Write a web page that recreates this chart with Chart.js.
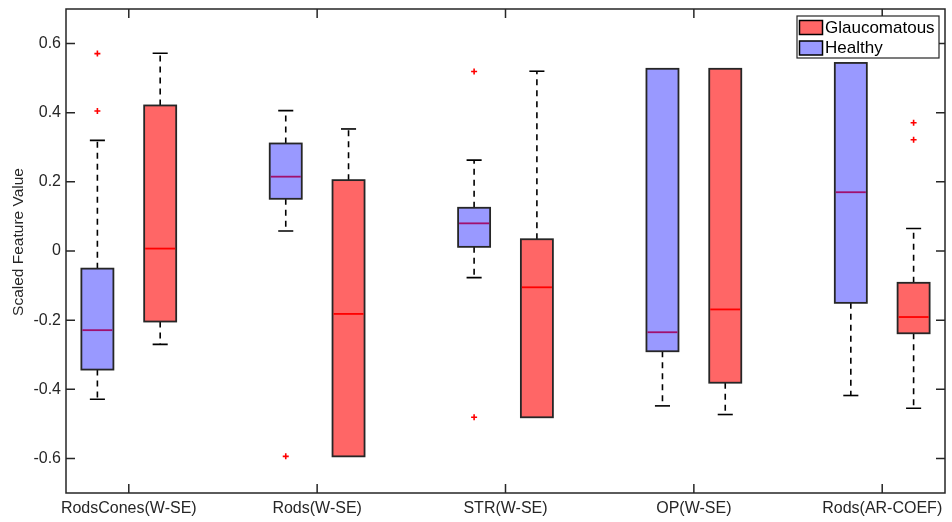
<!DOCTYPE html>
<html>
<head>
<meta charset="utf-8">
<script src="https://cdn.jsdelivr.net/npm/chart.js@4.4.1/dist/chart.umd.min.js"></script>
<style>
  body { margin: 0; background: #fff; }
  canvas { display: block; }
</style>
</head>
<body>
<canvas id="chart" width="952" height="522"></canvas>
<script>
const categories = ['RodsCones(W-SE)', 'Rods(W-SE)', 'STR(W-SE)', 'OP(W-SE)', 'Rods(AR-COEF)'];
const groupNames = ['Glaucomatous', 'Healthy'];
const yTicks = [-0.6, -0.4, -0.2, 0, 0.2, 0.4, 0.6];

// Healthy: whisker ends, quartiles, median, outliers
const healthyMin = [-0.429, 0.058, -0.077, -0.448, -0.418];
const healthyQ1 = [-0.343, 0.151, 0.012, -0.290, -0.150];
const healthyMedian = [-0.229, 0.215, 0.080, -0.235, 0.170];
const healthyQ3 = [-0.051, 0.311, 0.125, 0.527, 0.544];
const healthyMax = [0.320, 0.406, 0.263, 0.527, 0.544];
const healthyOutliers = [[0.571, 0.405], [-0.594], [0.519, -0.481], [], []];

// Glaucomatous
const glaucMin = [-0.270, -0.594, -0.481, -0.473, -0.455];
const glaucQ1 = [-0.204, -0.594, -0.481, -0.381, -0.238];
const glaucMedian = [0.007, -0.182, -0.105, -0.169, -0.191];
const glaucQ3 = [0.421, 0.205, 0.034, 0.527, -0.092];
const glaucMax = [0.572, 0.353, 0.520, 0.527, 0.065];
const glaucOutliers = [[], [], [], [], [0.371, 0.322]];

const FONT = '"Liberation Sans", Arial, sans-serif';
const INK = '#262626';
const OFFSET = 1 / 6;   // group shift from category tick
const HALF_BOX = 0.085;
const HALF_CAP = 0.04;

const series = [
    { name: 'Healthy', shift: -OFFSET, fill: '#9999ff', medianColor: '#a0106e',
      min: healthyMin, q1: healthyQ1, med: healthyMedian, q3: healthyQ3, max: healthyMax, out: healthyOutliers },
    { name: 'Glaucomatous', shift: OFFSET, fill: '#ff6666', medianColor: '#ff0000',
      min: glaucMin, q1: glaucQ1, med: glaucMedian, q3: glaucQ3, max: glaucMax, out: glaucOutliers }
];
const legendFill = { 'Glaucomatous': '#ff6666', 'Healthy': '#9999ff' };

function outlierPoints(s) {
    const pts = [];
    s.out.forEach((vals, i) => vals.forEach(v => pts.push({ x: i + 1 + s.shift, y: v })));
    return pts;
}

const boxPlugin = {
    id: 'boxPlot',
    beforeDatasetsDraw(chart) {
        const ctx = chart.ctx;
        const xs = chart.scales.x, ys = chart.scales.y;
        ctx.save();
        series.forEach(s => {
            categories.forEach((c, i) => {
                const xc = i + 1 + s.shift;
                const px = xs.getPixelForValue(xc);
                const left = xs.getPixelForValue(xc - HALF_BOX);
                const right = xs.getPixelForValue(xc + HALF_BOX);
                const capL = xs.getPixelForValue(xc - HALF_CAP);
                const capR = xs.getPixelForValue(xc + HALF_CAP);
                const yMin = ys.getPixelForValue(s.min[i]);
                const yMax = ys.getPixelForValue(s.max[i]);
                const yQ1 = ys.getPixelForValue(s.q1[i]);
                const yQ3 = ys.getPixelForValue(s.q3[i]);
                const yMed = ys.getPixelForValue(s.med[i]);

                // whiskers
                ctx.strokeStyle = '#000';
                ctx.lineWidth = 1.6;
                ctx.setLineDash([6, 5]);
                ctx.beginPath();
                if (s.max[i] > s.q3[i]) { ctx.moveTo(px, yQ3); ctx.lineTo(px, yMax); }
                if (s.min[i] < s.q1[i]) { ctx.moveTo(px, yQ1); ctx.lineTo(px, yMin); }
                ctx.stroke();
                ctx.setLineDash([]);
                ctx.beginPath();
                if (s.max[i] > s.q3[i]) { ctx.moveTo(capL, yMax); ctx.lineTo(capR, yMax); }
                if (s.min[i] < s.q1[i]) { ctx.moveTo(capL, yMin); ctx.lineTo(capR, yMin); }
                ctx.stroke();

                // box
                ctx.fillStyle = s.fill;
                ctx.fillRect(left, yQ3, right - left, yQ1 - yQ3);
                ctx.strokeStyle = INK;
                ctx.lineWidth = 1.8;
                ctx.strokeRect(left, yQ3, right - left, yQ1 - yQ3);

                // median
                ctx.strokeStyle = s.medianColor;
                ctx.lineWidth = 1.8;
                ctx.beginPath();
                ctx.moveTo(left + 1, yMed);
                ctx.lineTo(right - 1, yMed);
                ctx.stroke();
            });
        });
        ctx.restore();
    },
    afterDraw(chart) {
        const ctx = chart.ctx;
        const { left, right, top, bottom } = chart.chartArea;
        const xs = chart.scales.x, ys = chart.scales.y;
        const tick = 9;
        ctx.save();
        ctx.strokeStyle = INK;
        ctx.lineWidth = 1.5;
        ctx.strokeRect(left, top, right - left, bottom - top);
        ctx.beginPath();
        categories.forEach((c, i) => {
            const px = xs.getPixelForValue(i + 1);
            ctx.moveTo(px, bottom); ctx.lineTo(px, bottom - tick);
            ctx.moveTo(px, top); ctx.lineTo(px, top + tick);
        });
        yTicks.forEach(v => {
            const py = ys.getPixelForValue(v);
            ctx.moveTo(left, py); ctx.lineTo(left + tick, py);
            ctx.moveTo(right, py); ctx.lineTo(right - tick, py);
        });
        ctx.stroke();

        // y axis label (sits a little above the plot centre, as in the source figure)
        ctx.save();
        ctx.translate(19, 242);
        ctx.rotate(-Math.PI / 2);
        ctx.font = '15.5px ' + FONT;
        ctx.fillStyle = INK;
        ctx.textAlign = 'center';
        ctx.textBaseline = 'middle';
        ctx.fillText('Scaled Feature Value', 0, 0);
        ctx.restore();

        // legend
        const lx = 797, ly = 16, lw = 142, lh = 42;
        ctx.fillStyle = '#fff';
        ctx.fillRect(lx, ly, lw, lh);
        ctx.lineWidth = 1.2;
        ctx.strokeStyle = INK;
        ctx.strokeRect(lx, ly, lw, lh);
        ctx.font = '17px ' + FONT;
        ctx.textBaseline = 'middle';
        groupNames.forEach((g, k) => {
            const sy = ly + 4.5 + k * 20.5;
            ctx.fillStyle = legendFill[g];
            ctx.fillRect(lx + 2.5, sy, 23, 14);
            ctx.strokeStyle = '#000';
            ctx.lineWidth = 1.5;
            ctx.strokeRect(lx + 2.5, sy, 23, 14);
            ctx.fillStyle = '#000';
            ctx.fillText(g, lx + 28, sy + 7.5);
        });
        ctx.restore();
    }
};

new Chart(document.getElementById('chart'), {
    type: 'scatter',
    data: {
        datasets: series.map(s => ({
            label: s.name + ' outliers',
            data: outlierPoints(s),
            pointStyle: 'cross',
            pointRadius: 3,
            borderColor: '#ff0000',
            backgroundColor: '#ff0000',
            borderWidth: 1.6
        }))
    },
    options: {
        responsive: false,
        animation: false,
        layout: { padding: { top: 9, right: 7, left: 0, bottom: 0 } },
        plugins: { legend: { display: false }, tooltip: { enabled: false } },
        scales: {
            x: {
                type: 'linear',
                min: 2 / 3,
                max: 16 / 3,
                afterBuildTicks: scale => { scale.ticks = categories.map((c, i) => ({ value: i + 1 })); },
                afterFit: scale => {
                    scale.height = 29;
                    scale.paddingLeft = 0;
                    scale.paddingRight = 0;
                },
                ticks: {
                    callback: v => categories[Math.round(v) - 1],
                    autoSkip: false,
                    maxRotation: 0,
                    padding: 6,
                    color: INK,
                    font: { family: FONT, size: 16 }
                },
                grid: { display: false, drawTicks: false },
                border: { display: false }
            },
            y: {
                min: -0.7,
                max: 0.7,
                afterBuildTicks: scale => { scale.ticks = yTicks.map(v => ({ value: v })); },
                afterFit: scale => {
                    scale.width = 66;
                    scale.paddingTop = 0;
                    scale.paddingBottom = 0;
                },
                ticks: {
                    callback: v => String(Math.round(v * 10) / 10),
                    padding: 5,
                    color: INK,
                    font: { family: FONT, size: 16 }
                },
                grid: { display: false, drawTicks: false },
                border: { display: false }
            }
        }
    },
    plugins: [boxPlugin]
});
</script>
</body>
</html>
